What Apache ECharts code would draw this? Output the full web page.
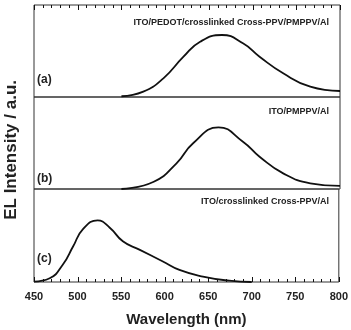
<!DOCTYPE html>
<html>
<head>
<meta charset="utf-8">
<script src="https://cdn.jsdelivr.net/npm/echarts@6/dist/echarts.min.js"></script>
<style>
  html, body { margin: 0; padding: 0; background: #fff; }
  #main { width: 351px; height: 330px; }
</style>
</head>
<body>
<div id="main"></div>
<script>
// spectra (wavelength in nm, intensity normalised to panel height)
var wavelengthA = [550, 575, 598, 621, 640, 665, 689, 708, 735, 766, 800]
var intensityA = [0.008, 0.058, 0.203, 0.438, 0.601, 0.674, 0.584, 0.438, 0.258, 0.112, 0.065]

var wavelengthB = [550, 587, 613, 632, 661, 689, 708, 735, 766, 800]
var intensityB = [0.0, 0.079, 0.279, 0.497, 0.670, 0.514, 0.351, 0.170, 0.062, 0.033]

var wavelengthC = [450, 468, 483, 495, 506, 523, 537, 552, 571, 598, 617, 644, 674, 700]
var intensityC = [0.005, 0.040, 0.185, 0.384, 0.565, 0.663, 0.584, 0.438, 0.348, 0.221, 0.130, 0.058, 0.014, 0.0]

var majorTicks = [450, 500, 550, 600, 650, 700, 750, 800]
var minorTicks = [460, 470, 480, 490, 510, 520, 530, 540, 560, 570, 580, 590, 610, 620, 630, 640,
  660, 670, 680, 690, 710, 720, 730, 740, 760, 770, 780, 790]

var deviceNames = ['ITO/PEDOT/crosslinked Cross-PPV/PMPPV/Al', 'ITO/PMPPV/Al', 'ITO/crosslinked Cross-PPV/Al']
var panelTags = ['(a)', '(b)', '(c)']

var zip = function (xs, ys) { return xs.map(function (x, i) { return [x, ys[i]] }) }

var font = '"Liberation Sans", Arial, sans-serif'
var ink = '#222'

var gridTops = [5, 97, 189]
var gridHeights = [92, 92, 93]

var grids = gridTops.map(function (t, i) {
  return { left: 34, right: 11, top: t, height: gridHeights[i], show: true, borderColor: '#333', borderWidth: 1, backgroundColor: 'transparent' }
})

var xAxes = [0, 1, 2].map(function (i) {
  return {
    type: 'value', gridIndex: i, min: 450, max: 800, interval: 50,
    axisLine: { show: false }, axisTick: { show: false },
    splitLine: { show: false }, axisLabel: { show: false }
  }
})
xAxes[2].axisLabel = { show: true, margin: 9, color: ink, fontSize: 11, fontWeight: 'bold', fontFamily: font }
xAxes[2].name = 'Wavelength (nm)'
xAxes[2].nameLocation = 'middle'
xAxes[2].nameGap = 30
xAxes[2].nameTextStyle = { color: ink, fontSize: 15, fontWeight: 'bold', fontFamily: font }

var yAxes = [0, 1, 2].map(function (i) {
  return { type: 'value', gridIndex: i, min: 0, max: 1, show: false }
})

var lineSeries = function (i, data) {
  return {
    type: 'line', xAxisIndex: i, yAxisIndex: i, data: data,
    smooth: 0.5, showSymbol: false, silent: true,
    lineStyle: { color: '#111', width: 1.8 }
  }
}

// inward tick marks drawn through the axis scale (edge: 1 = top of panel, 0 = bottom)
var tickSeries = function (grid, edge, values, len) {
  return {
    type: 'custom', xAxisIndex: grid, yAxisIndex: grid, silent: true, clip: false,
    data: values.map(function (v) { return [v, edge] }),
    renderItem: function (params, api) {
      var p = api.coord([api.value(0), api.value(1)])
      var dir = api.value(1) === 1 ? 1 : -1
      return {
        type: 'line',
        shape: { x1: Math.round(p[0]) + 0.5, y1: p[1], x2: Math.round(p[0]) + 0.5, y2: p[1] + dir * len },
        style: { stroke: '#111', lineWidth: 1 }
      }
    }
  }
}

var txt = function (x, y, s, size) {
  return {
    type: 'text', left: x, top: y,
    style: { text: s, fill: ink, font: 'bold ' + size + 'px ' + font }
  }
}

var chart = echarts.init(document.getElementById('main'))
chart.setOption({
  animation: false,
  backgroundColor: '#fff',
  grid: grids,
  xAxis: xAxes,
  yAxis: yAxes,
  series: [
    lineSeries(0, zip(wavelengthA, intensityA)),
    lineSeries(1, zip(wavelengthB, intensityB)),
    lineSeries(2, zip(wavelengthC, intensityC)),
    tickSeries(0, 1, majorTicks, 5),
    tickSeries(0, 1, minorTicks, 3),
    tickSeries(2, 0, majorTicks, 5),
    tickSeries(2, 0, minorTicks, 3)
  ],
  graphic: [
    { type: 'text', right: 22, top: 18, style: { text: deviceNames[0], fill: ink, font: 'bold 9px ' + font } },
    { type: 'text', right: 22, top: 107, style: { text: deviceNames[1], fill: ink, font: 'bold 9px ' + font } },
    { type: 'text', right: 22, top: 197, style: { text: deviceNames[2], fill: ink, font: 'bold 9px ' + font } },
    txt(37, 74, panelTags[0], 12),
    txt(37, 173, panelTags[1], 12),
    txt(37, 253, panelTags[2], 12),
    {
      type: 'text', left: 3, top: 80, rotation: Math.PI / 2,
      style: { text: 'EL Intensity / a.u.', fill: ink, font: 'bold 17px ' + font }
    }
  ]
})
</script>
</body>
</html>
